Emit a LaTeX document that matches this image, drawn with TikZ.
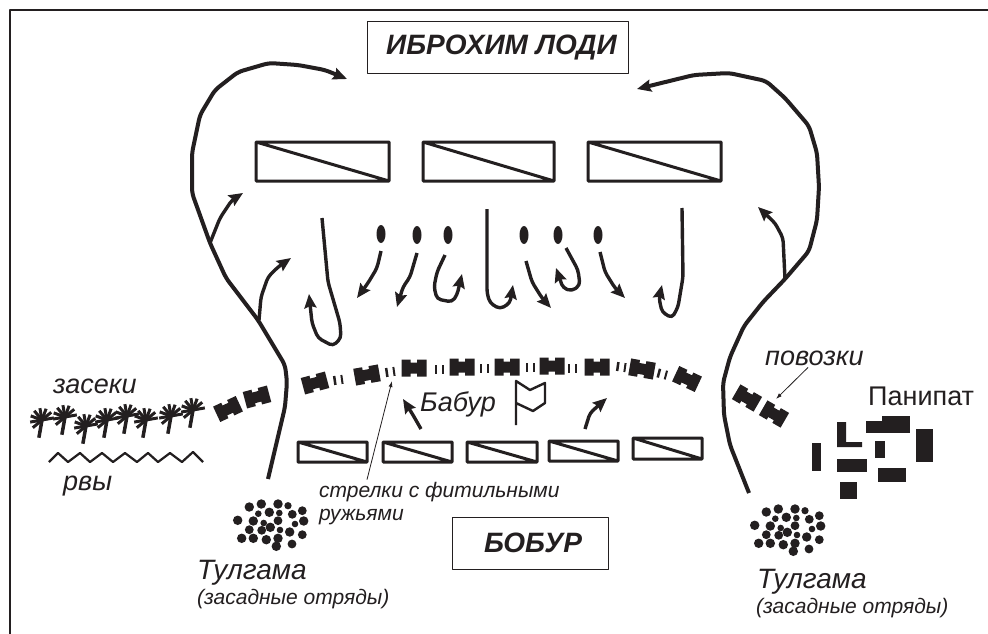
\documentclass[tikz,border=0pt]{standalone}
\usepackage{fontspec}
\setmainfont{Liberation Sans}
\usetikzlibrary{arrows.meta}
\definecolor{Tush}{RGB}{35,31,32}
\tikzset{
  metka/.style={font=\fontsize{27}{30}\selectfont\itshape,text=Tush,inner sep=0pt,anchor=base west},
  melkaya/.style={font=\fontsize{21}{23}\selectfont\itshape,text=Tush,inner sep=0pt,anchor=base west,align=left},
  titul/.style={draw=Tush,line width=1pt,inner sep=0pt,font=\fontsize{28}{30}\selectfont\bfseries\itshape,text=Tush},
  polk/.style={draw=Tush,line width=3pt},
  doroga/.style={Tush,line width=4pt,rounded corners=5pt},
  manevr/.style={->,Tush,line width=3.4pt,rounded corners=4pt},
  vynoska/.style={-{Latex[length=6pt,width=4pt]},Tush,line width=0.8pt},
  povozka/.pic={\fill[Tush] (-12.5,-8.5) -- (-3.5,-8.5) -- (-3.5,-5.5) -- (3,-5.5) -- (3,-8.5) -- (12.5,-8.5)
    -- (12.5,8.5) -- (3,8.5) -- (3,5.5) -- (-3.5,5.5) -- (-3.5,8.5) -- (-12.5,8.5) -- cycle;},
  zaseka/.pic={\foreach \u in {-10,-40,-70,-100,-130,-160,-190,-220} \draw[Tush,line width=3pt] (0,0) -- (\u:12);
    \draw[Tush,line width=3.5pt] (0,0) -- (100:18);},
  strelki/.pic={\fill[Tush] (-4.5,-4.5) rectangle (-2,4.5); \fill[Tush] (3,-4.5) rectangle (5,4.5);},
  otryad/.pic={\foreach \x/\y/\r in {47.7/40.3/4.3,59.3/27/4.3,71.3/24/4.3,88/24/4.3,98/25.7/3.3,112.3/30.7/4,102.3/34.3/4,
    89.3/33/3,79.3/32.3/4.3,68.3/33.7/3,63.3/41/4.3,73.7/43/3,88/40.7/4,113.7/41/4.3,105/44/3,59.3/49.7/4,71.7/50.3/4,
    80.3/47.3/4.3,90/50/3,99.7/52/4.3,112.3/54.7/4,51.7/58.3/4.3,63.3/58.3/4.3,76.3/59.7/4.3,88/58.3/4.3,86.3/66.3/4.3,102/64/4}
    \fill[Tush] (\x,\y) circle ({\r*1.1pt});}
}
\begin{document}
\begin{tikzpicture}[x=1pt,y=-1pt,>={Stealth[length=14pt,width=12pt,inset=2pt]},line join=round]
  \useasboundingbox (0,0) rectangle (988,634);
  \fill[white] (0,0) rectangle (988,634);
  \draw[Tush,line width=1.6pt] (10,634) -- (10,10) -- (988,10);

  % Ибрахим Лоди
  \node[titul,minimum width=261pt,minimum height=52pt] (lodi) at (497.5,48) {\hspace{8pt}\raisebox{-4pt}{ИБРОХИМ ЛОДИ}};
  \draw[polk] (256,142) rectangle (389,181) (256,142) -- (389,181);
  \draw[polk] (423,142) rectangle (554,181) (423,142) -- (554,181);
  \draw[polk] (588,142) rectangle (721,181) (588,142) -- (721,181);

  % Обход слева
  \draw[->,doroga] (268,479) -- (285,407) -- (287,382) -- (285,365) -- (258,320) -- (226,278) -- (210,243) -- (192,193) -- (192,153)
    -- (200,115) -- (215,90) -- (238,72) -- (269,63) -- (298,65) -- (325,70) -- (347,79);
  \draw[manevr] (210,243) -- (220,218) -- (232,200) -- (243,193);
  \draw[manevr] (259,320) -- (261,297) -- (268,277) -- (278,267) -- (291,258);

  % Обход справа
  \draw[->,doroga] (749,493) -- (730,445) -- (724,415) -- (723,383) -- (730,357) -- (744,326) -- (763,302) -- (785,279) -- (809,251)
    -- (817,220) -- (819,187) -- (817,153) -- (809,126) -- (785,98) -- (766,81) -- (729,73) -- (694,75) -- (637,89);
  \draw[manevr] (785,279) -- (783,238) -- (775,223) -- (758,207);

  % Слоны и манёвры
  \fill[Tush] (381,234) ellipse (4.5pt and 9pt);
  \fill[Tush] (417,235) ellipse (4.5pt and 9pt);
  \fill[Tush] (448,235) ellipse (4.5pt and 9pt);
  \fill[Tush] (524,235) ellipse (4.5pt and 9pt);
  \fill[Tush] (558,235) ellipse (4.5pt and 9pt);
  \fill[Tush] (598,235) ellipse (4.5pt and 9pt);
  \draw[manevr] (322,218) -- (328,282) -- (340,323) -- (341,338) -- (333,346) -- (318,338) -- (312,323) -- (309,294);
  \draw[manevr] (381,251) -- (377,268) -- (368,283) -- (357,298);
  \draw[manevr] (417,253) -- (410,277) -- (403,287) -- (397,307);
  \draw[manevr] (445,255) -- (437,272) -- (434,287) -- (437,299) -- (452,302) -- (457,295) -- (462,274);
  \draw[manevr] (487,209) -- (487,293) -- (490,303) -- (500,309) -- (510,303) -- (513,285);
  \draw[manevr] (526,261) -- (532,282) -- (542,298) -- (551,308);
  \draw[manevr] (566,248) -- (578,270) -- (580,285) -- (572,291) -- (563,288) -- (556,268);
  \draw[manevr] (600,252) -- (605,272) -- (615,288) -- (625,298);
  \draw[manevr] (682,208) -- (683,277) -- (678,307) -- (672,318) -- (662,312) -- (659,298) -- (662,285);

  % Повозки
  \pic[rotate=25] at (228,409) {povozka};
  \pic[rotate=15] at (257,397) {povozka};
  \pic[rotate=15] at (315,383) {povozka};
  \pic[rotate=10] at (367,375) {povozka};
  \pic at (414,368) {povozka};
  \pic at (462,367) {povozka};
  \pic at (507,367) {povozka};
  \pic at (552,366) {povozka};
  \pic at (597,367) {povozka};
  \pic[rotate=-10] at (642,369) {povozka};
  \pic[rotate=-25] at (687,379) {povozka};
  \pic[rotate=-30] at (747,398) {povozka};
  \pic[rotate=-30] at (774,414) {povozka};
  \pic[rotate=8] at (338,380) {strelki};
  \pic[rotate=8] at (390,372) {strelki};
  \pic at (439,369) {strelki};
  \pic at (484,368) {strelki};
  \pic at (530,367) {strelki};
  \pic at (572,368) {strelki};
  \pic[rotate=-8] at (621,367) {strelki};
  \pic[rotate=-15] at (662,374) {strelki};

  % Засеки и рвы
  \pic at (42,420) {zaseka};
  \pic at (65,417) {zaseka};
  \pic at (86,426) {zaseka};
  \pic at (107,420) {zaseka};
  \pic at (127,416) {zaseka};
  \pic at (146,420) {zaseka};
  \pic at (171,416) {zaseka};
  \pic at (193,410) {zaseka};
  \draw[Tush,line width=2.2pt] (49,462) -- (58,453) -- (68,462) -- (80,453) -- (90,462) -- (102,453) -- (113,462) -- (125,453)
    -- (137,462) -- (148,453) -- (158,462) -- (170,453) -- (182,462) -- (193,452) -- (203,462);
  \node[metka] (zaseki) at (53,393) {засеки};
  \node[metka] (rvy) at (63,490) {рвы};

  % Бобур
  \draw[polk] (298,442) rectangle (367,462) (298,442) -- (367,462);
  \draw[polk] (383,442) rectangle (452,462) (383,442) -- (452,462);
  \draw[polk] (467,442) rectangle (537,462) (467,442) -- (537,462);
  \draw[polk] (549,441) rectangle (618,461) (549,441) -- (618,461);
  \draw[polk] (633,438) rectangle (702,459) (633,438) -- (702,459);
  \draw[manevr] (421,429) -- (413,415) -- (403,399);
  \draw[manevr] (585,429) -- (590,413) -- (607,398);
  \node[metka] (babur) at (420,411) {Бабур};
  \draw[Tush,line width=2.4pt] (516,425) -- (516,381) -- (530,390) -- (545,383) -- (545,403) -- (533,411) -- (516,403);
  \node[titul,minimum width=156pt,minimum height=52pt] (bobur) at (530,543) {\hspace{6pt}\raisebox{-3pt}{БОБУР}};

  % Выноски
  \coordinate (strelkiTip) at (392,381);
  \node[melkaya] (strelkiTxt) at (319,520) {стрелки с фитильными\\ружьями};
  \draw[vynoska] ([xshift=48pt,yshift=2pt]strelkiTxt.north west) -- (strelkiTip);
  \coordinate (povozkiTip) at (776,399);
  \node[metka] (povozkiTxt) at (765,365) {повозки};
  \draw[vynoska] ([xshift=43pt,yshift=-2pt]povozkiTxt.south west) -- (povozkiTip);

  % Тулгама
  \pic at (190,480) {otryad};
  \pic at (707,485) {otryad};
  \node[metka,font=\fontsize{28}{30}\selectfont\itshape] (tulgamaL) at (197,579) {Тулгама};
  \node[melkaya] (zasadaL) at (197,604) {(засадные отряды)};
  \node[metka,font=\fontsize{28}{30}\selectfont\itshape] (tulgamaR) at (757,588) {Тулгама};
  \node[melkaya] (zasadaR) at (756,613) {(засадные отряды)};

  % Панипат
  \node[metka,font=\fontsize{27}{30}\selectfont] (panipat) at (868,405) {Панипат};
  \fill[Tush] (812,443) rectangle (821,471);
  \fill[Tush] (837,422) rectangle (846,447) (837,442) rectangle (862,447);
  \fill[Tush] (866,421) rectangle (888,433);
  \fill[Tush] (882,416) rectangle (910,433);
  \fill[Tush] (916,429) rectangle (933,462);
  \fill[Tush] (875,441) rectangle (885,458);
  \fill[Tush] (837,459) rectangle (867,472);
  \fill[Tush] (878,468) rectangle (906,482);
  \fill[Tush] (840,482) rectangle (857,499);
\end{tikzpicture}
\end{document}
